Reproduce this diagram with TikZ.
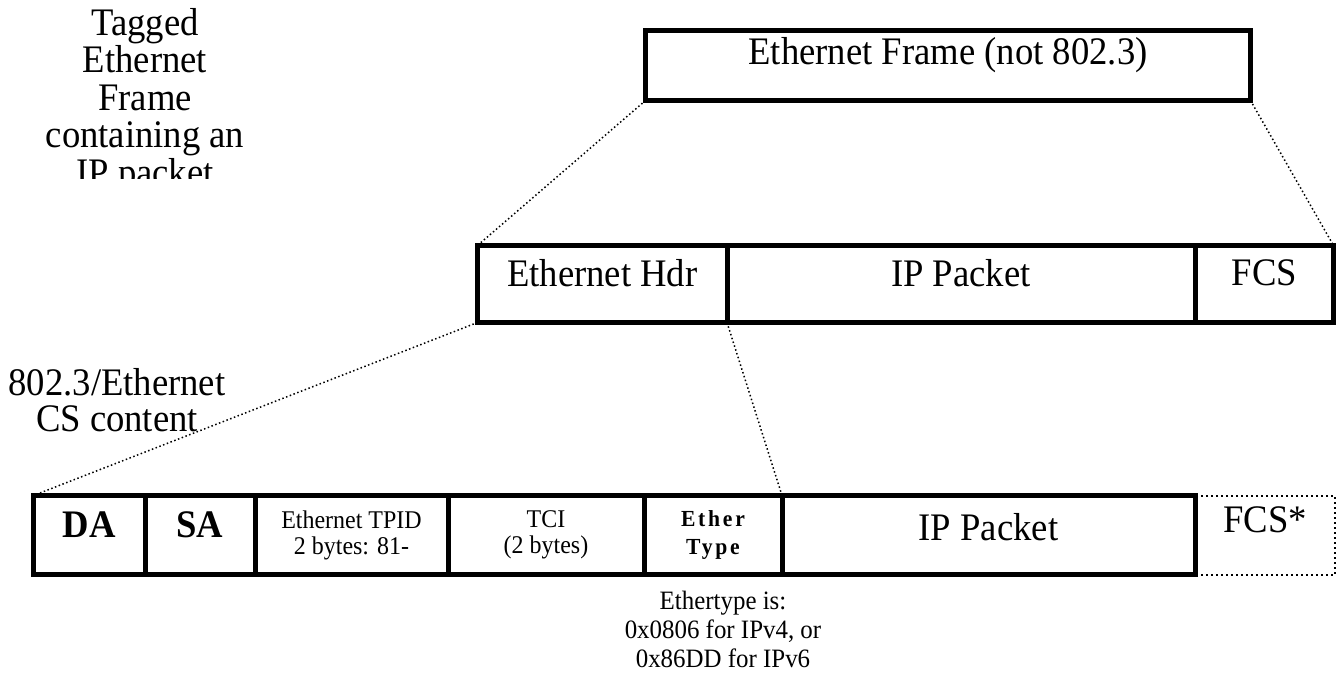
\documentclass[tikz,border=0pt]{standalone}
\usepackage{fontspec}
\setmainfont[FakeStretch=0.94]{Liberation Serif}
\newfontfamily\spacedfont[LetterSpace=12,FakeStretch=0.94]{Liberation Serif}
\usetikzlibrary{positioning}

\tikzset{
  box/.style={draw, line width=5pt, outer sep=0pt, inner sep=0pt},
  cell/.style={box, font=\fontsize{39}{41}\selectfont, text depth=23pt},
  smallcell/.style={box, font=\fontsize{25.5}{26}\selectfont, align=center},
  fanline/.style={line width=1.5pt, dash pattern=on 1.5pt off 2.5pt},
}

\begin{document}
\begin{tikzpicture}[x=1pt,y=-1pt,node distance=0pt]
\useasboundingbox (0,0) rectangle (1339,677);

% frame
\node[cell, minimum width=605pt, minimum height=70pt, text depth=30pt] (frame) at (948,65.5) {Ethernet Frame (not 802.3)};

% middle row
\node[cell, minimum width=249.5pt, minimum height=77pt, anchor=north west] (hdr) at (477.5,245.5) {Ethernet Hdr};
\node[cell, minimum width=468pt, minimum height=77pt] (ip_1) [right=of hdr] {IP Packet};
\node[cell, minimum width=138.5pt, minimum height=77pt] (fcs_1) [right=of ip_1] {FCS};

% tagged row
\node[cell, minimum width=111.5pt, minimum height=79pt, anchor=north west, font=\fontsize{39}{41}\selectfont\bfseries, text depth=20pt] (da) at (33.5,495.5) {DA};
\node[cell, minimum width=110pt, minimum height=79pt, font=\fontsize{39}{41}\selectfont\bfseries, text depth=20pt] (sa) [right=of da] {SA};
\node[smallcell, minimum width=193pt, minimum height=79pt] (tpid) [right=of sa] {Ethernet TPID\\2 bytes: 81-};
\node[smallcell, minimum width=196pt, minimum height=79pt] (tci) [right=of tpid] {TCI\\(2 bytes)};
\node[smallcell, minimum width=138pt, minimum height=79pt, font=\fontsize{23}{28}\spacedfont\bfseries] (etype) [right=of tci] {Ether\\Type};
\node[cell, minimum width=413pt, minimum height=79pt, text depth=16pt] (ip_2) [right=of etype] {IP Packet};
\node[cell, draw=none, minimum width=140pt, minimum height=79pt, text depth=30pt] (fcs_2) [right=of ip_2] {FCS*};
\draw[line width=2pt, dash pattern=on 2pt off 3pt] (fcs_2.north west) rectangle (fcs_2.south east);

% texts
\node[font=\fontsize{26.5}{29}\selectfont, align=center, xshift=10pt] (ethnote) [below=13pt of etype] {Ethertype is:\\0x0806 for IPv4, or\\0x86DD for IPv6};
\node[font=\fontsize{39}{36}\selectfont, align=center] (cslabel) at (117,400) {802.3/Ethernet\\CS content};
\begin{scope}
  \clip (0,0) rectangle (330,178);
  \node[font=\fontsize{39}{37.5}\selectfont, align=center] (title) at (145,101) {Tagged\\Ethernet\\Frame\\containing an\\IP packet};
\end{scope}

\path[fanline]
  (frame.south west) edge (hdr.north west)
  (frame.south east) edge (fcs_1.north east)
  (hdr.south west) edge (da.north west)
  (hdr.south east) edge (etype.north east);
\end{tikzpicture}
\end{document}
